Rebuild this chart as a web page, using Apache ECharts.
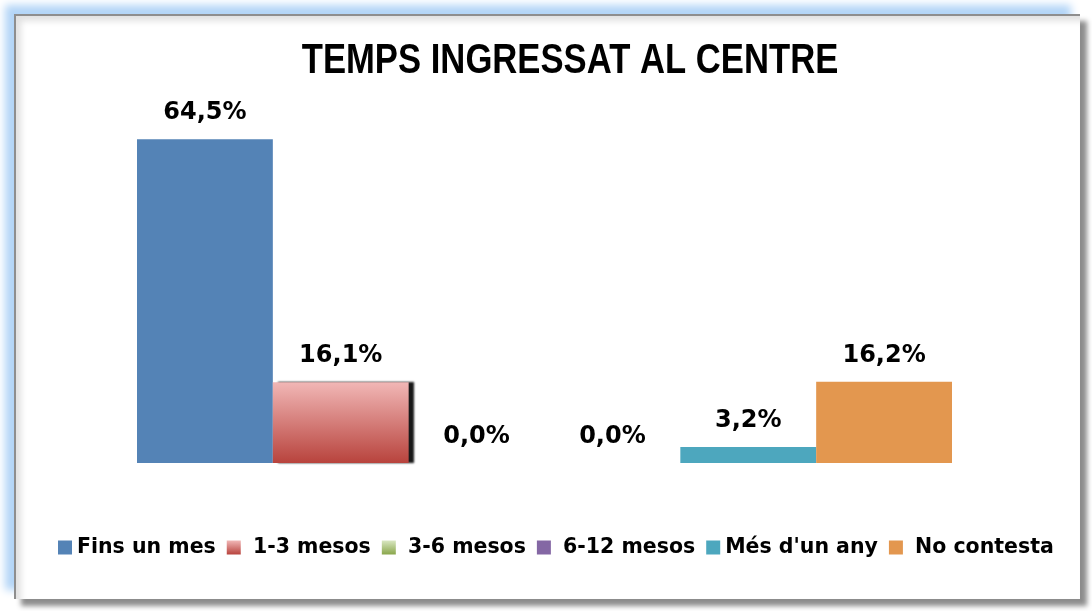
<!DOCTYPE html>
<html>
<head>
<meta charset="utf-8">
<script src="https://cdn.jsdelivr.net/npm/echarts@6/dist/echarts.min.js"></script>
<style>
  html, body { margin: 0; padding: 0; background: #ffffff; }
  #frame {
    position: absolute; left: 14px; top: 14px; width: 1064px; height: 583px;
    background: #ffffff;
    border-left: 2px solid #8e8e8e; border-top: 2px solid #8e8e8e;
    box-shadow: 7px 7px 5px rgba(0,0,0,0.45), -9px -9px 8px #b3d5f7, inset 5px 5px 6px rgba(0,0,0,0.12);
  }
  #chart { position: absolute; left: 0; top: 0; width: 1092px; height: 611px; }
</style>
</head>
<body>
<div id="frame"></div>
<div id="chart"></div>
<script>
const titleText = 'TEMPS INGRESSAT AL CENTRE';
const categories = [''];
const seriesNames = ['Fins un mes', '1-3 mesos', '3-6 mesos', '6-12 mesos', "Més d'un any", 'No contesta'];
const seriesValues = [64.5, 16.1, 0.0, 0.0, 3.2, 16.2];
const spacedLegend = ['1-3 mesos', '3-6 mesos', '6-12 mesos', 'No contesta'];

const colors = [
  '#5483b6',
  { type: 'linear', x: 0, y: 0, x2: 0, y2: 1, colorStops: [{ offset: 0, color: '#f1b7b6' }, { offset: 1, color: '#b8433d' }] },
  { type: 'linear', x: 0, y: 0, x2: 0, y2: 1, colorStops: [{ offset: 0, color: '#d9e7c2' }, { offset: 1, color: '#89a64a' }] },
  '#8467a4',
  '#4da7be',
  '#e3974f'
];

const chart = echarts.init(document.getElementById('chart'), null, { renderer: 'canvas' });
const series = seriesNames.map((name, i) => ({
  name: name,
  type: 'bar',
  data: [seriesValues[i]],
  barGap: '0%',
  barCategoryGap: '0%',
  itemStyle: Object.assign({ color: colors[i] }, i === 1 ? { shadowColor: 'rgba(0,0,0,0.9)', shadowOffsetX: 5, shadowOffsetY: 0, shadowBlur: 2 } : {}),
  label: {
    show: true,
    position: 'top',
    distance: 14,
    formatter: p => p.value.toFixed(1).replace('.', ',') + '%',
    fontFamily: 'DejaVu Sans',
    fontWeight: 'bold',
    fontSize: 24,
    color: '#000000'
  },
  emphasis: { disabled: true }
}));

chart.setOption({
  backgroundColor: 'transparent',
  animation: false,
  graphic: [{
    type: 'text',
    x: 570,
    y: 40,
    scaleX: 0.806,
    style: {
      text: titleText,
      x: 0, y: 0,
      align: 'center',
      verticalAlign: 'top',
      font: 'bold 43px "Liberation Sans", Arial, sans-serif',
      fill: '#000000'
    }
  }],
  legend: {
    data: seriesNames,
    bottom: 48,
    left: 53,
    itemWidth: 14,
    itemHeight: 14,
    itemGap: 11,
    icon: 'rect',
    formatter: name => (spacedLegend.indexOf(name) >= 0 ? ' ' : '') + name,
    textStyle: { fontFamily: 'DejaVu Sans', fontWeight: 'bold', fontSize: 20.5, color: '#000000' }
  },
  grid: { left: 137, right: 140, top: 111.6, bottom: 148 },
  xAxis: {
    type: 'category',
    data: categories,
    axisLine: { show: false },
    axisTick: { show: false },
    axisLabel: { show: false }
  },
  yAxis: {
    type: 'value',
    min: 0,
    max: 70,
    show: false,
    splitLine: { show: false }
  },
  series: series
});
</script>
</body>
</html>
